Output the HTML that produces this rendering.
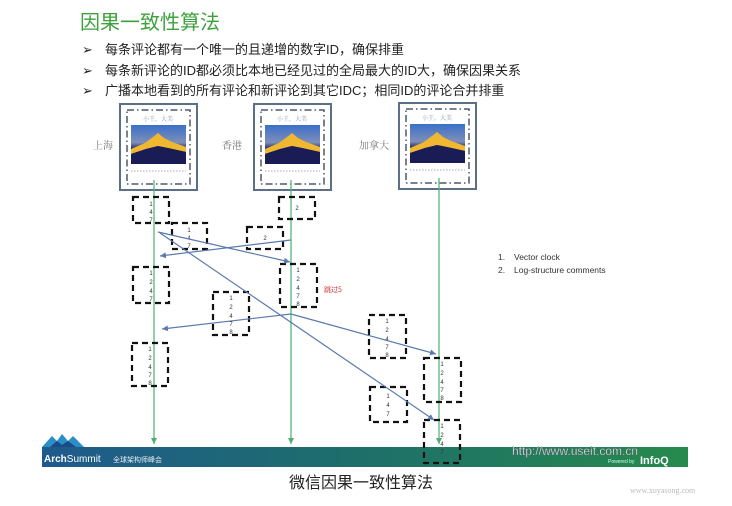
<!DOCTYPE html>
<html><head><meta charset="utf-8"><style>
html,body{margin:0;padding:0;background:#fff;}
body{width:732px;height:506px;overflow:hidden;position:relative;font-family:"Liberation Sans","Noto Sans CJK SC",sans-serif;}
</style></head><body>
<svg width="732" height="506" viewBox="0 0 732 506" xmlns="http://www.w3.org/2000/svg" style="position:absolute;left:0;top:0">
<defs>
<linearGradient id="sky" x1="0" y1="0" x2="0" y2="1">
<stop offset="0" stop-color="#3a6fc9"/><stop offset="0.45" stop-color="#7f8fb8"/><stop offset="0.6" stop-color="#2a2d6a"/><stop offset="1" stop-color="#0d1040"/>
</linearGradient>
<linearGradient id="ban" x1="0" y1="0" x2="1" y2="0">
<stop offset="0" stop-color="#1f5a8c"/><stop offset="0.5" stop-color="#1e6f6a"/><stop offset="1" stop-color="#268a4c"/>
</linearGradient>
<marker id="ga" markerWidth="8" markerHeight="8" refX="6" refY="3" orient="auto" markerUnits="userSpaceOnUse"><path d="M0,0 L6,3 L0,6 z" fill="#4caf6e"/></marker>
<marker id="ba" markerWidth="8" markerHeight="8" refX="6" refY="3" orient="auto" markerUnits="userSpaceOnUse"><path d="M0,0 L6,3 L0,6 z" fill="#5a7ab0"/></marker>
<g id="frame">
<rect x="0" y="0" width="77" height="86" fill="#fff" stroke="#5b6f86" stroke-width="2"/>
<rect x="7" y="6" width="63" height="74" fill="none" stroke="#4a5a6e" stroke-width="1.5" stroke-dasharray="7,3,1.5,3"/>
<text x="38" y="17" font-size="6" fill="#8a9ab0" text-anchor="middle" font-family="Noto Serif CJK SC,serif">小王，大美</text>
<rect x="11" y="21" width="55" height="39" fill="url(#sky)"/>
<path d="M11,45 L25,39 L33,33 L38,29 L44,34 L52,38 L66,43 L66,48 L48,44 L38,42 L26,45 L11,50 z" fill="#f0b830"/>
<path d="M11,50 L26,45 L38,42 L48,44 L66,48 L66,60 L11,60 z" fill="#1a1d55"/>
<line x1="11" y1="67" x2="66" y2="67" stroke="#aab" stroke-width="1" stroke-dasharray="1.5,1.5"/>
</g>
</defs>

<text x="80" y="29" font-size="20" fill="#3da23d" font-family="Liberation Sans,Noto Sans CJK SC,sans-serif">因果一致性算法</text>
<g font-size="13" fill="#222" font-family="Liberation Sans,WenQuanYi Zen Hei,sans-serif">
<text x="82" y="54">➢</text><text x="105" y="54">每条评论都有一个唯一的且递增的数字ID，确保排重</text>
<text x="82" y="75">➢</text><text x="105" y="75">每条新评论的ID都必须比本地已经见过的全局最大的ID大，确保因果关系</text>
<text x="82" y="95">➢</text><text x="105" y="95">广播本地看到的所有评论和新评论到其它IDC；相同ID的评论合并排重</text>
</g>

<rect x="42" y="447" width="646" height="20" fill="url(#ban)"/>
<path d="M42,447 L52,436 L57,441 L62,434 L68,441 L73,436 L84,447 z" fill="#2a8fc4"/>
<path d="M50,447 L57,441 L62,445 L68,441 L76,447 z" fill="#1b4a86"/>
<text x="44" y="462" font-size="10" fill="#fff" font-weight="bold">Arch<tspan font-weight="normal">Summit</tspan></text>
<text x="113" y="462" font-size="7" fill="#e6eef4" font-family="Noto Sans CJK SC,sans-serif">全球架构师峰会</text>
<text x="512" y="455" font-size="12" fill="#eef" stroke="#555" stroke-width="0.3">http://www.useit.com.cn</text>
<text x="608" y="463" font-size="5" fill="#cfe">Powered by</text>
<text x="640" y="464" font-size="11" font-weight="bold" fill="#fff">InfoQ</text>

<use href="#frame" x="120" y="104"/>
<use href="#frame" x="254" y="104"/>
<use href="#frame" x="399" y="103"/>
<g font-size="10" fill="#777" font-family="Noto Serif CJK SC,serif">
<text x="93" y="149">上海</text><text x="222" y="149">香港</text><text x="359" y="149">加拿大</text>
</g>

<g stroke="#56b87a" stroke-width="1.3" marker-end="url(#ga)">
<line x1="154" y1="180" x2="154" y2="444"/>
<line x1="291" y1="180" x2="291" y2="444"/>
<line x1="439" y1="178" x2="439" y2="444"/>
</g>

<g fill="none" stroke="#111" stroke-width="2.2" stroke-dasharray="6,4">
<rect x="133" y="197" width="36" height="26"/>
<rect x="172" y="223" width="35" height="26"/>
<rect x="279" y="197" width="36" height="22"/>
<rect x="247" y="227" width="36" height="22"/>
<rect x="133" y="267" width="36" height="36"/>
<rect x="280" y="264" width="37" height="43"/>
<rect x="213" y="292" width="36" height="43"/>
<rect x="132" y="343" width="36" height="43"/>
<rect x="369" y="315" width="37" height="43"/>
<rect x="424" y="358" width="37" height="44"/>
<rect x="370" y="387" width="37" height="35"/>
<rect x="424" y="420" width="36" height="43"/>
</g>
<g font-size="6" fill="#333" text-anchor="middle">
<text x="151" y="206">1</text><text x="151" y="214">4</text><text x="151" y="222">7</text>
<text x="189" y="232">1</text><text x="189" y="240">4</text><text x="189" y="248">7</text>
<text x="297" y="210">2</text>
<text x="265" y="240">2</text>
<text x="151" y="275">1</text><text x="151" y="284">2</text><text x="151" y="293">4</text><text x="151" y="301">7</text>
<text x="298" y="272">1</text><text x="298" y="281">2</text><text x="298" y="290">4</text><text x="298" y="298">7</text><text x="298" y="306">8</text>
<text x="231" y="300">1</text><text x="231" y="309">2</text><text x="231" y="318">4</text><text x="231" y="326">7</text><text x="231" y="334">8</text>
<text x="150" y="351">1</text><text x="150" y="360">2</text><text x="150" y="369">4</text><text x="150" y="377">7</text><text x="150" y="385">8</text>
<text x="387" y="323">1</text><text x="387" y="332">2</text><text x="387" y="341">4</text><text x="387" y="349">7</text><text x="387" y="357">8</text>
<text x="442" y="366">1</text><text x="442" y="375">2</text><text x="442" y="384">4</text><text x="442" y="392">7</text><text x="442" y="400">8</text>
<text x="388" y="398">1</text><text x="388" y="407">4</text><text x="388" y="416">7</text>
<text x="442" y="428">1</text><text x="442" y="437">2</text><text x="442" y="446">4</text><text x="442" y="454">7</text>
</g>
<text x="324" y="292" font-size="7" fill="#d03030" font-family="Noto Sans CJK SC,sans-serif">跳过5</text>

<g stroke="#5a7ab0" stroke-width="1.2" fill="none" marker-end="url(#ba)">
<line x1="158" y1="232" x2="290" y2="262"/>
<line x1="160" y1="233" x2="434" y2="420"/>
<line x1="291" y1="240" x2="160" y2="256"/>
<line x1="291" y1="314" x2="162" y2="329"/>
<line x1="291" y1="314" x2="436" y2="354"/>
</g>

<g font-size="8.5" fill="#333">
<text x="498" y="260">1.</text><text x="514" y="260">Vector clock</text>
<text x="498" y="273">2.</text><text x="514" y="273">Log-structure comments</text>
</g>

<text x="361" y="488" font-size="16" fill="#222" text-anchor="middle" font-family="Liberation Sans,Noto Sans CJK SC,sans-serif">微信因果一致性算法</text>
<text x="630" y="493" font-size="8" fill="#bbb" font-family="Liberation Serif,serif">www.xuyasong.com</text>
</svg>
</body></html>
